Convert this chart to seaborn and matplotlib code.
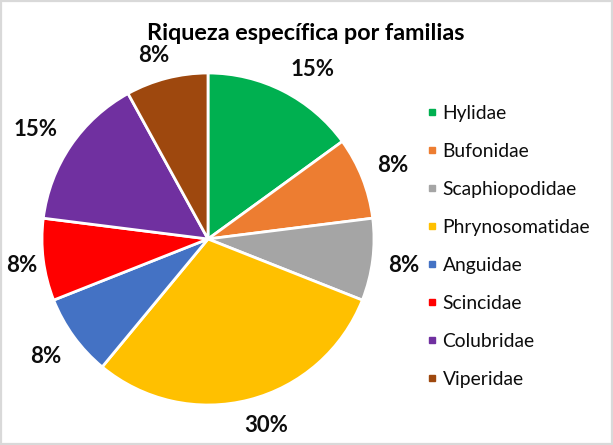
import matplotlib
matplotlib.use("Agg")
import numpy as np
import matplotlib.pyplot as plt
import seaborn as sns
from matplotlib.patches import Rectangle
from matplotlib.lines import Line2D

families = ["Hylidae", "Bufonidae", "Scaphiopodidae", "Phrynosomatidae",
            "Anguidae", "Scincidae", "Colubridae", "Viperidae"]
percentages = [15, 8, 8, 30, 8, 8, 15, 8]
colors_hex = ["#00B050", "#ED7D31", "#A5A5A5", "#FFC000",
              "#4472C4", "#FF0000", "#7030A0", "#9E480E"]
title = "Riqueza específica por familias"

sns.set_theme(style="white")
plt.rcParams['font.family'] = ['Lato', 'DejaVu Sans']
palette = sns.color_palette(colors_hex)

W, H = 613, 445
R_PX = 166
LABEL_FS = 16
fig = plt.figure(figsize=(W / 100, H / 100), dpi=100)
fig.patches.append(Rectangle((0.0015, 0.002), 0.997, 0.996, transform=fig.transFigure,
                             fill=False, edgecolor="#D9D9D9", linewidth=1.6))

ax = fig.add_axes([(208 - R_PX) / W, (H - 405) / H, 2 * R_PX / W, 2 * R_PX / H])
wedges, texts, autotexts = ax.pie(
    percentages, colors=palette, startangle=90, counterclock=False,
    autopct=lambda p: f"{p:.0f}%", pctdistance=1.19, labeldistance=None,
    wedgeprops=dict(edgecolor="white", linewidth=2),
    textprops=dict(fontsize=LABEL_FS, fontweight="bold", color="#0D0D0D"))
ax.set_aspect("equal")
ax.set_xlim(-1, 1)
ax.set_ylim(-1, 1)
ax.axis("off")

ttl = fig.text(306 / W, 1 - 40 / H, title, ha="center", va="baseline", fontsize=16.8,
               fontweight="bold", color="#000000")

# "outside end" label placement: the label box sits on the ray just outside the rim
fig.canvas.draw()
renderer = fig.canvas.get_renderer()
cx, cy = ax.transData.transform((0, 0))
gap = 17
cap_half = 0.36 * LABEL_FS * 100 / 72
for w, t in zip(wedges, autotexts):
    ang = np.deg2rad((w.theta1 + w.theta2) / 2)
    c, s = np.cos(ang), np.sin(ang)
    bb = t.get_window_extent(renderer)
    hw = bb.width / 2 - 1
    px = cx + c * (R_PX + gap) + hw * np.clip(2.5 * c, -1, 1)
    py = cy + s * (R_PX + gap) + cap_half * np.clip(2.5 * s, -1, 1)
    px = min(max(px, 7 + hw), W - 4 - hw)
    t.set_ha("center")
    t.set_va("baseline")
    t.set_position(ax.transData.inverted().transform((px, py - cap_half)))

handles = [Line2D([0], [0], marker="s", linestyle="", markersize=5,
                  markerfacecolor=c, markeredgecolor=c) for c in palette]
fig.legend(handles, families, loc="center left", bbox_to_anchor=(417 / W, 1 - 246.5 / H),
           frameon=False, fontsize=13.9, handletextpad=0.12, labelspacing=1.09,
           handlelength=0.8, borderaxespad=0, labelcolor="#0D0D0D")

fig.savefig("out.png", dpi=100)
